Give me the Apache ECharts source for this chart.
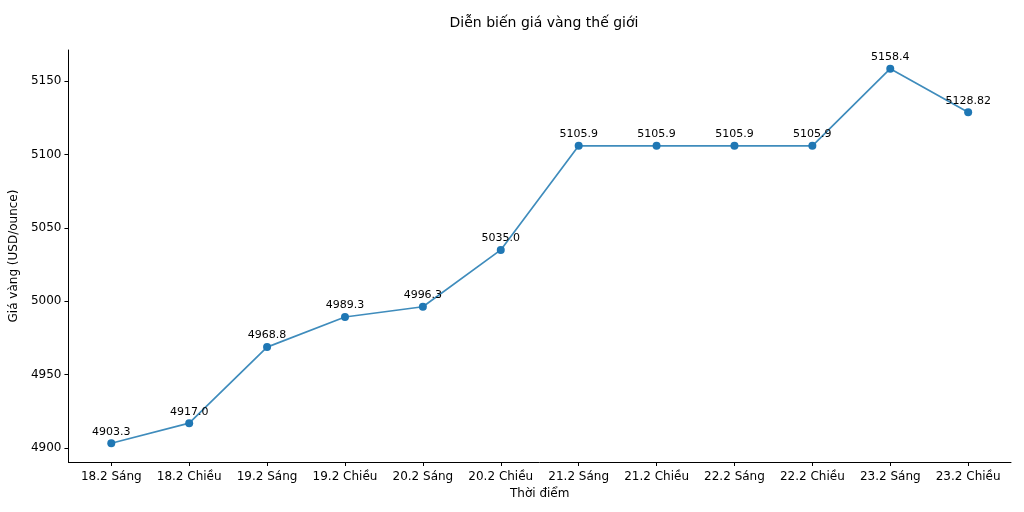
<!DOCTYPE html>
<html>
<head>
<meta charset="utf-8">
<script src="https://cdn.jsdelivr.net/npm/echarts@6/dist/echarts.min.js"></script>
<style>html,body{margin:0;padding:0;background:#fff}#c{width:1024px;height:512px}</style>
</head>
<body>
<div id="c"></div>
<script>
const categories = ["18.2 Sáng","18.2 Chiều","19.2 Sáng","19.2 Chiều","20.2 Sáng","20.2 Chiều","21.2 Sáng","21.2 Chiều","22.2 Sáng","22.2 Chiều","23.2 Sáng","23.2 Chiều"];
const prices = [4903.3, 4917.0, 4968.8, 4989.3, 4996.3, 5035.0, 5105.9, 5105.9, 5105.9, 5105.9, 5158.4, 5128.82];
const priceLabels = ["4903.3","4917.0","4968.8","4989.3","4996.3","5035.0","5105.9","5105.9","5105.9","5105.9","5158.4","5128.82"];
const yTicks = [4900, 4950, 5000, 5050, 5100, 5150];

const font = "DejaVu Sans";
const idx = categories.map((_, i) => i);
const chart = echarts.init(document.getElementById('c'), null, {renderer: 'canvas'});
chart.setOption({
  animation: false,
  backgroundColor: '#fff',
  textStyle: {fontFamily: font},
  title: {
    text: 'Diễn biến giá vàng thế giới',
    left: 539, top: 11, textAlign: 'center',
    textStyle: {fontFamily: font, fontSize: 14, fontWeight: 'normal', color: '#000'}
  },
  grid: {left: 66, right: 13, top: 50, bottom: 50, containLabel: false},
  xAxis: {
    type: 'value',
    min: -0.55, max: 11.55,
    name: 'Thời điểm', nameLocation: 'middle', nameGap: 26,
    nameTextStyle: {fontFamily: font, fontSize: 12, color: '#000'},
    splitLine: {show: false},
    axisLine: {show: true, onZero: false, lineStyle: {color: '#000', width: 1}},
    axisTick: {show: true, length: 4, inside: false, customValues: idx, lineStyle: {color: '#000'}},
    axisLabel: {
      customValues: idx, margin: 9,
      fontFamily: font, fontSize: 12, color: '#000',
      formatter: v => categories[Math.round(v)]
    }
  },
  yAxis: {
    type: 'value',
    min: 4890.55, max: 5171.15,
    name: 'Giá vàng (USD/ounce)', nameLocation: 'middle', nameGap: 42,
    nameTextStyle: {fontFamily: font, fontSize: 12, color: '#000'},
    splitLine: {show: false},
    axisLine: {show: true, onZero: false, lineStyle: {color: '#000', width: 1}},
    axisTick: {show: true, length: 4, inside: false, customValues: yTicks, lineStyle: {color: '#000'}},
    axisLabel: {customValues: yTicks, margin: 7, fontFamily: font, fontSize: 12, color: '#000',
      formatter: v => String(v)}
  },
  series: [{
    type: 'line',
    data: prices.map((v, i) => [i, v]),
    symbol: 'circle', symbolSize: 8,
    itemStyle: {color: '#1f77b4'},
    lineStyle: {color: '#2a80b5', width: 1.7, opacity: 0.9},
    label: {
      show: true, position: 'top', distance: 2,
      fontFamily: font, fontSize: 11, color: '#000',
      formatter: p => priceLabels[p.dataIndex]
    }
  }]
});
</script>
</body>
</html>
